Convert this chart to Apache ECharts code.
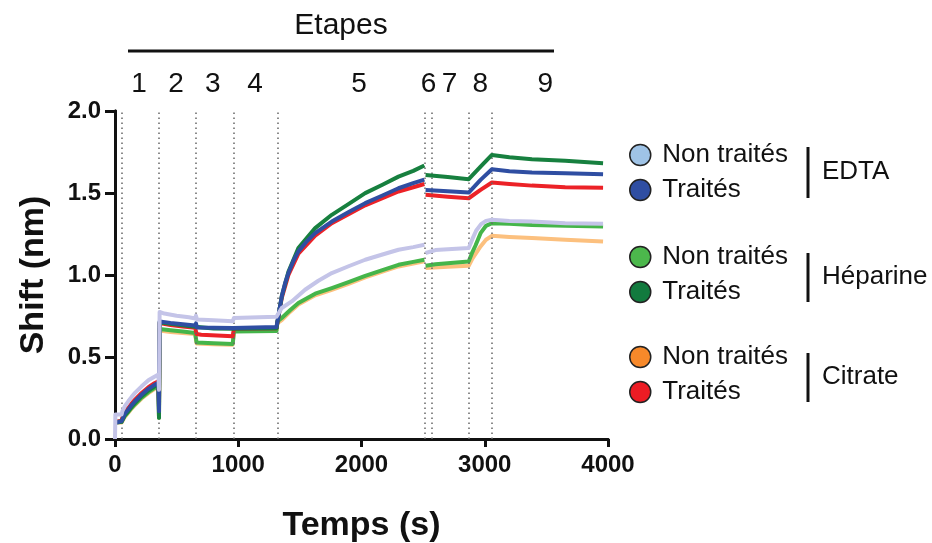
<!DOCTYPE html>
<html>
<head>
<meta charset="utf-8">
<script src="https://cdn.jsdelivr.net/npm/echarts@6/dist/echarts.min.js"></script>
<style>html,body{margin:0;background:#fff}#c{width:932px;height:543px}</style>
</head>
<body>
<div id="c"></div>
<script>
// BLI sensorgram: shift (nm) vs time (s), 6 samples, 9 steps
const FONT = "'Liberation Sans', Arial, sans-serif";
const INK = '#111';

// step boundaries (dotted lines) and where the step numbers sit, in seconds
const stepTimes = [55, 357, 655, 960, 1318, 2517, 2568, 2874, 3058];
const stepLabelTimes = [195, 495, 793, 1136, 1981, 2543, 2714, 2963, 3491];
const stepLabels = ['1', '2', '3', '4', '5', '6', '7', '8', '9'];

// [time s, shift nm]; '-' breaks the line
const edtaNonTraites = [
  [0, 0], [3, 0.15], [54, 0.15],
  [60, 0.17], [80, 0.2], [108, 0.23], [135, 0.257], [162, 0.281], [216, 0.321], [271, 0.358], [320, 0.38], [352, 0.393], [357, 0.3],
  [362, 0.775], [400, 0.765], [500, 0.752], [600, 0.742], [650, 0.735], [657, 0.752], [665, 0.728],
  [800, 0.724], [955, 0.718],
  [965, 0.738], [1100, 0.741], [1310, 0.745],
  [1318, 0.748], [1353, 0.799], [1434, 0.839], [1542, 0.91], [1650, 0.965], [1759, 1.012], [1900, 1.055], [2030, 1.093], [2170, 1.125], [2300, 1.154], [2420, 1.17], [2510, 1.184],
  [2514, '-'],
  [2520, 1.134], [2600, 1.152], [2870, 1.165],
  [2900, 1.22], [2930, 1.27], [2970, 1.31], [3010, 1.33], [3058, 1.337],
  [3200, 1.33], [3383, 1.326], [3653, 1.316], [3960, 1.312],
];
const edtaTraites = [
  [15, 0.1], [54, 0.11],
  [57, 0.119], [80, 0.155], [108, 0.18], [135, 0.207], [162, 0.23], [216, 0.271], [271, 0.306], [320, 0.33], [352, 0.342], [357, 0.17],
  [362, 0.717], [450, 0.708], [550, 0.7], [650, 0.692], [657, 0.705], [665, 0.68],
  [800, 0.679], [955, 0.677],
  [965, 0.68], [1310, 0.683],
  [1318, 0.677], [1353, 0.87], [1380, 0.95], [1407, 1.012], [1450, 1.09], [1488, 1.144], [1550, 1.2], [1624, 1.255], [1759, 1.326], [1900, 1.385], [2030, 1.438], [2170, 1.485], [2300, 1.529], [2420, 1.56], [2510, 1.582],
  [2514, '-'],
  [2520, 1.519], [2700, 1.51], [2870, 1.503],
  [2966, 1.58], [3058, 1.645],
  [3200, 1.632], [3383, 1.625], [3653, 1.62], [3960, 1.614],
];
const heparineNonTraites = [
  [15, 0.105], [54, 0.108],
  [57, 0.105], [80, 0.14], [108, 0.165], [135, 0.19], [162, 0.212], [216, 0.252], [271, 0.286], [320, 0.31], [352, 0.322], [357, 0.13],
  [362, 0.671], [450, 0.663], [550, 0.655], [650, 0.647], [662, 0.588],
  [800, 0.584], [955, 0.58],
  [965, 0.655], [1310, 0.658],
  [1318, 0.717], [1353, 0.738], [1420, 0.785], [1488, 0.829], [1624, 0.886], [1759, 0.92], [1900, 0.958], [2030, 0.995], [2170, 1.03], [2300, 1.062], [2420, 1.08], [2510, 1.093],
  [2514, '-'],
  [2520, 1.056], [2600, 1.065], [2870, 1.083],
  [2900, 1.14], [2925, 1.18], [2966, 1.255], [3010, 1.3], [3058, 1.316],
  [3200, 1.312], [3383, 1.305], [3653, 1.3], [3960, 1.296],
];
const heparineTraites = [
  [15, 0.1], [54, 0.105],
  [57, 0.11], [80, 0.145], [108, 0.17], [135, 0.197], [162, 0.22], [216, 0.261], [271, 0.296], [320, 0.32], [352, 0.332], [357, 0.13],
  [362, 0.712], [450, 0.702], [550, 0.693], [650, 0.685], [662, 0.675],
  [800, 0.674], [955, 0.672],
  [965, 0.672], [1310, 0.676],
  [1318, 0.676], [1353, 0.87], [1407, 1.02], [1488, 1.164], [1624, 1.286], [1759, 1.367], [1900, 1.435], [2030, 1.499], [2170, 1.55], [2300, 1.6], [2420, 1.635], [2510, 1.668],
  [2514, '-'],
  [2520, 1.61], [2700, 1.598], [2870, 1.584],
  [2966, 1.661], [3058, 1.732],
  [3200, 1.718], [3383, 1.706], [3653, 1.696], [3960, 1.682],
];
const citrateNonTraites = [
  [15, 0.1], [54, 0.1],
  [57, 0.1], [80, 0.135], [108, 0.16], [135, 0.186], [162, 0.207], [216, 0.247], [271, 0.28], [320, 0.305], [352, 0.317], [357, 0.13],
  [362, 0.661], [450, 0.652], [550, 0.646], [650, 0.64], [662, 0.582],
  [800, 0.578], [955, 0.575],
  [965, 0.662], [1310, 0.665],
  [1318, 0.707], [1353, 0.725], [1420, 0.775], [1488, 0.82], [1624, 0.876], [1759, 0.91], [1900, 0.948], [2030, 0.985], [2170, 1.02], [2300, 1.052], [2420, 1.07], [2510, 1.083],
  [2514, '-'],
  [2520, 1.042], [2700, 1.05], [2870, 1.056],
  [2900, 1.1], [2966, 1.174], [3010, 1.215], [3058, 1.239],
  [3200, 1.232], [3383, 1.225], [3653, 1.215], [3960, 1.204],
];
const citrateTraites = [
  [15, 0.105], [54, 0.112],
  [57, 0.125], [80, 0.165], [108, 0.19], [135, 0.217], [162, 0.24], [216, 0.281], [271, 0.316], [320, 0.34], [352, 0.352], [357, 0.2],
  [362, 0.707], [450, 0.695], [550, 0.686], [650, 0.678], [662, 0.64],
  [700, 0.636], [955, 0.626],
  [965, 0.672], [1310, 0.675],
  [1318, 0.675], [1353, 0.86], [1407, 1.0], [1488, 1.13], [1624, 1.24], [1759, 1.316], [2030, 1.425], [2300, 1.509], [2420, 1.535], [2510, 1.555],
  [2514, '-'],
  [2520, 1.489], [2700, 1.477], [2870, 1.468],
  [2966, 1.519], [3058, 1.564],
  [3200, 1.555], [3383, 1.545], [3653, 1.535], [3960, 1.532],
];

// name = group|label ; line = trace colour ; dot = legend marker colour
const SERIES = [
  { name: 'EDTA|Non traités', data: edtaNonTraites, line: '#c4c4e8', dot: '#9fc3e6', z: 7 },
  { name: 'EDTA|Traités', data: edtaTraites, line: '#2f4ea2', dot: '#2f4ea2', z: 6 },
  { name: 'Héparine|Non traités', data: heparineNonTraites, line: '#45b54a', dot: '#4cb84c', z: 3 },
  { name: 'Héparine|Traités', data: heparineTraites, line: '#17803f', dot: '#127a3e', z: 5 },
  { name: 'Citrate|Non traités', data: citrateNonTraites, line: '#fcc07e', dot: '#f7892a', z: 2 },
  { name: 'Citrate|Traités', data: citrateTraites, line: '#ec2227', dot: '#ec1c24', z: 4 },
];

const chart = echarts.init(document.getElementById('c'), null, { renderer: 'canvas' });

const axisLine = { show: true, lineStyle: { color: INK, width: 3 } };
const tickLabel = { fontSize: 24, fontWeight: 'bold', color: INK, fontFamily: FONT };
const nameStyle = { fontSize: 34, fontWeight: 'bold', color: INK, fontFamily: FONT };
const legendBox = (names, top) => ({
  data: names, orient: 'vertical', left: 624, top,
  icon: 'circle', itemWidth: 34, itemHeight: 21, itemGap: 9,
  itemStyle: { borderColor: '#222', borderWidth: 1.5 },
  textStyle: { fontSize: 26, color: INK, fontFamily: FONT },
  formatter: (n) => n.split('|')[1],
  selectedMode: false,
});

chart.setOption({
  animation: false,
  textStyle: { fontFamily: FONT },
  // fixed plot box: do not let ECharts shrink it to fit the axis names
  grid: { left: 115, right: 324, top: 111, bottom: 104, outerBoundsMode: 'none' },
  xAxis: [{
    type: 'value', min: 0, max: 4000, interval: 1000,
    axisLine, axisTick: { length: 8, lineStyle: { color: INK, width: 3 } },
    axisLabel: { ...tickLabel, margin: 14, formatter: (v) => String(v) }, splitLine: { show: false },
    name: 'Temps (s)', nameLocation: 'middle', nameGap: 70, nameTextStyle: nameStyle,
  }, {
    type: 'value', position: 'top', min: 0, max: 4000,
    axisLine, axisTick: { show: false }, axisLabel: { show: false }, splitLine: { show: false },
  }],
  yAxis: [{
    type: 'value', min: 0, max: 2, interval: 0.5,
    axisLine, axisTick: { length: 8, lineStyle: { color: INK, width: 3 } },
    axisLabel: { ...tickLabel, margin: 14, formatter: (v) => v.toFixed(1) }, splitLine: { show: false },
    name: 'Shift (nm)', nameLocation: 'middle', nameGap: 64, nameRotate: 90, nameTextStyle: nameStyle,
  }, {
    type: 'value', position: 'right', min: 0, max: 2, interval: 0.5,
    axisLine, axisTick: { inside: true, length: 10, lineStyle: { color: INK, width: 3 } },
    axisLabel: { show: false }, splitLine: { show: false },
  }],
  legend: [
    legendBox(['EDTA|Non traités', 'EDTA|Traités'], 137),
    legendBox(['Héparine|Non traités', 'Héparine|Traités'], 239),
    legendBox(['Citrate|Non traités', 'Citrate|Traités'], 339),
  ],
  series: [
    {
      type: 'line', name: 'steps', data: [], z: 1, silent: true,
      markLine: {
        symbol: 'none', silent: true, label: { show: false },
        lineStyle: { type: [1.5, 3.5], color: '#666', width: 1.5 },
        data: stepTimes.map((t) => ({ xAxis: t })),
      },
    },
    ...SERIES.map((s) => ({
      type: 'line', name: s.name, data: s.data, z: s.z,
      showSymbol: false, smooth: false, connectNulls: false,
      lineStyle: { color: s.line, width: 4, join: 'round' },
      itemStyle: { color: s.dot },
    })),
  ],
});

// step header above the plot, placed from step times
const px = (t) => chart.convertToPixel({ xAxisIndex: 0 }, t);
const txt = (x, y, text, size, align) => ({
  type: 'text', x, y,
  style: { text, fontSize: size, fill: INK, fontFamily: FONT, align: align || 'center', verticalAlign: 'middle' },
});
const bar = (x1, y1, x2, y2) => ({ type: 'line', shape: { x1, y1, x2, y2 }, style: { stroke: INK, lineWidth: 3 } });

chart.setOption({
  graphic: [
    txt(341, 26, 'Etapes', 30),
    bar(128, 51, 554, 51),
    ...stepLabels.map((l, i) => txt(px(stepLabelTimes[i]), 84, l, 28)),
    bar(808, 147, 808, 198), txt(822, 172, 'EDTA', 26, 'left'),
    bar(808, 253, 808, 302), txt(822, 277, 'Héparine', 26, 'left'),
    bar(808, 353, 808, 402), txt(822, 377, 'Citrate', 26, 'left'),
  ],
});
</script>
</body>
</html>
